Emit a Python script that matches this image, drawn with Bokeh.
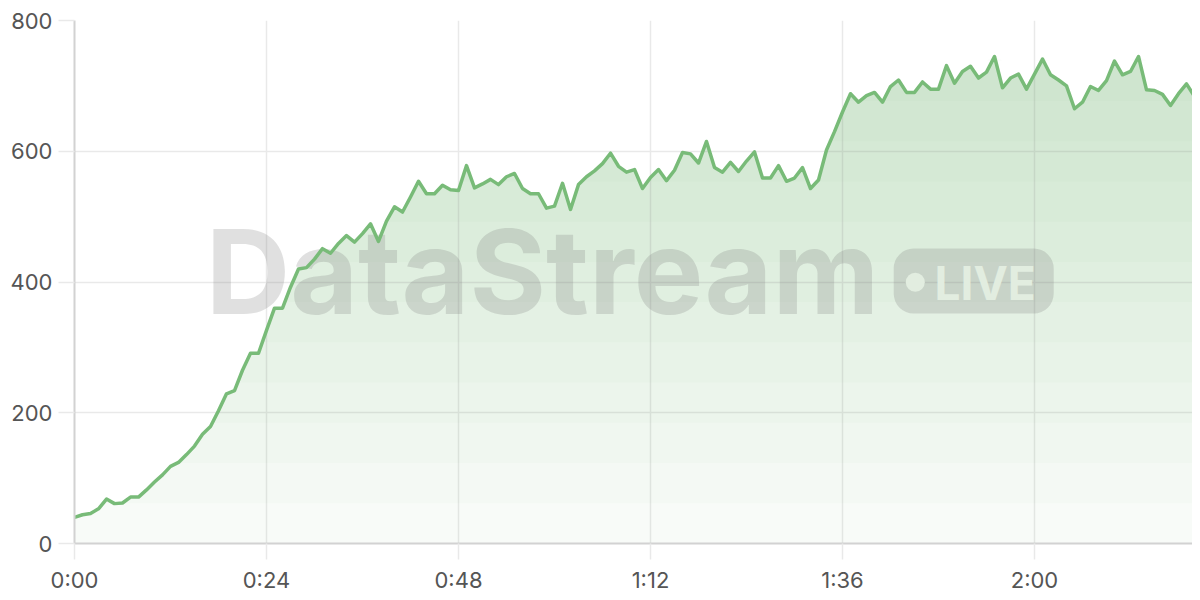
import numpy as np
from bokeh.plotting import figure
from bokeh.models import FixedTicker, Range1d
from bokeh.core.properties import value
from bokeh.embed import file_html
from bokeh.resources import INLINE

# ---- data -------------------------------------------------------------
seconds = list(range(141))
viewers = [40, 44, 46, 53, 68, 61, 62, 71, 71, 82,
           94, 105, 118, 124, 136, 149, 167, 179, 203, 229,
           234, 265, 291, 291, 326, 360, 360, 392, 420, 422,
           435, 451, 444, 459, 471, 461, 474, 489, 462, 493,
           515, 507, 530, 554, 535, 535, 548, 541, 540, 578,
           544, 550, 557, 549, 561, 566, 543, 535, 535, 513,
           516, 551, 511, 549, 561, 570, 581, 597, 577, 568,
           572, 543, 560, 572, 555, 571, 598, 596, 582, 615,
           575, 568, 583, 569, 585, 599, 559, 559, 578, 554,
           559, 575, 543, 556, 602, 630, 660, 688, 675, 685,
           690, 675, 699, 709, 690, 690, 706, 695, 695, 731,
           704, 722, 730, 712, 721, 745, 697, 712, 718, 695,
           718, 741, 717, 709, 700, 665, 675, 699, 693, 708,
           738, 717, 722, 745, 694, 693, 687, 670, 688, 703,
           684]
x_tick_values = [0, 24, 48, 72, 96, 120]
x_tick_labels = ["0:00", "0:24", "0:48", "1:12", "1:36", "2:00"]
y_tick_values = [0, 200, 400, 600, 800]
watermark_title = "DataStream"
watermark_badge = "LIVE"

# ---- styles -----------------------------------------------------------
LINE = "#78bb78"
FILL = "#6eb46e"
GRID = "#e9e9e9"
AXIS = "#d2d2d2"
LABEL = "#555555"
FONT = "Inter"

x = np.array(seconds, dtype=float)
y = np.array(viewers, dtype=float)

p = figure(frame_width=1118, frame_height=523,
           output_backend="svg", toolbar_location=None,
           x_range=Range1d(0, 139.75), y_range=Range1d(0, 800),
           min_border_left=74, min_border_right=0, min_border_top=20,
           min_border_bottom=50)
p.outline_line_color = None
p.background_fill_color = "white"
p.border_fill_color = "white"

# gradient-like area fill: base layer plus stacked translucent bands
p.varea(x=x, y1=np.zeros_like(y), y2=y, fill_color=FILL, fill_alpha=0.05)
N = 12
for k in range(1, N + 1):
    h = 800.0 * k / (N + 1)
    p.varea(x=x, y1=np.full_like(y, h), y2=np.maximum(y, h),
            fill_color=FILL, fill_alpha=0.026)

# watermark (decoration)
wm_color = "#7a7a7a"
wm_alpha = 0.23
p.text(x=[16.4], y=[416.0], text=[watermark_title],
       text_font=value(FONT), text_font_style="bold",
       text_font_size="117px", text_color=wm_color,
       text_alpha=wm_alpha, text_baseline="alphabetic")
p.quad(left=[102.4], right=[122.4], bottom=[351.8], top=[451.2],
       fill_color=wm_color, fill_alpha=wm_alpha, line_color=None,
       border_radius=20)
p.scatter(x=[105.1], y=[399.7], size=19, fill_color="#e2ede0",
          line_color=None)
p.text(x=[107.5], y=[399.0], text=[watermark_badge],
       text_font=value(FONT), text_font_style="bold",
       text_font_size="46px", text_color="#e2ede0",
       text_baseline="alphabetic")

# line
p.line(x, y, line_color=LINE, line_width=3.5, line_join="round")

# axes / grid
p.xaxis.ticker = FixedTicker(ticks=x_tick_values)
p.xaxis.major_label_overrides = {v: l for v, l in zip(x_tick_values, x_tick_labels)}
p.yaxis.ticker = FixedTicker(ticks=y_tick_values)
p.xgrid.ticker = FixedTicker(ticks=x_tick_values)
p.ygrid.ticker = FixedTicker(ticks=y_tick_values)
p.grid.grid_line_color = GRID
p.grid.grid_line_width = 1.5

for ax in (p.xaxis[0], p.yaxis[0]):
    ax.axis_line_color = AXIS
    ax.axis_line_width = 2
    ax.major_tick_in = 0
    ax.major_tick_out = 16
    ax.major_tick_line_color = GRID
    ax.major_tick_line_width = 1.5
    ax.minor_tick_line_color = None
    ax.major_label_text_font = FONT
    ax.major_label_text_font_size = "22px"
    ax.major_label_text_color = LABEL
p.yaxis.major_label_standoff = 6
p.xaxis.major_label_standoff = 7

open("out.html", "w").write(file_html(p, INLINE))
